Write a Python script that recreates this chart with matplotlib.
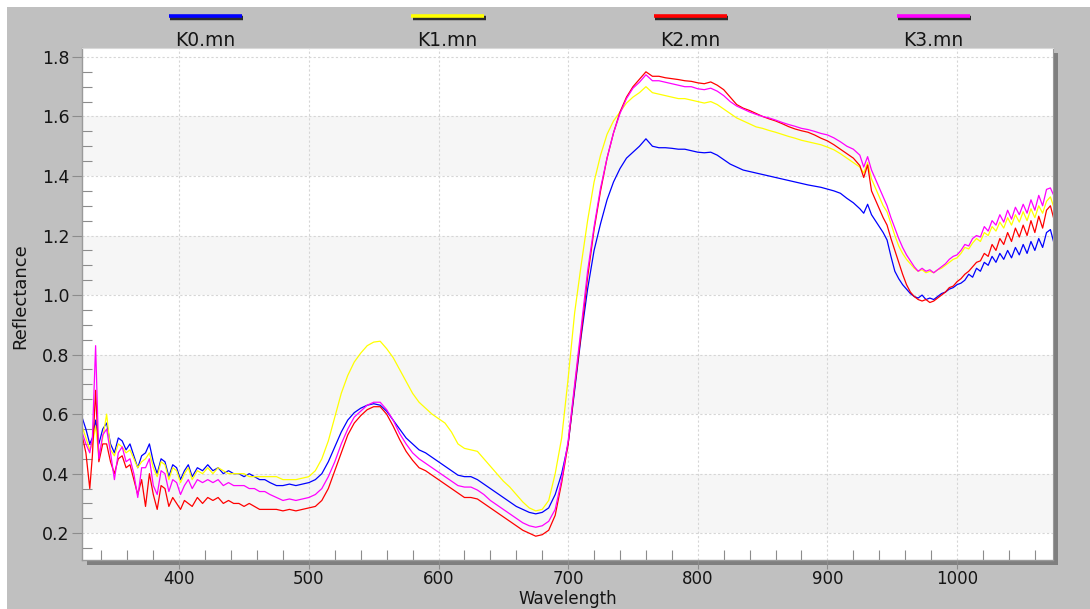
import matplotlib
matplotlib.use("Agg")
import matplotlib.pyplot as plt
from matplotlib.patches import Rectangle
from matplotlib.lines import Line2D

# ---------------- data ----------------
wavelength = [
    325, 328, 331, 333, 335.5, 338, 341, 344, 347, 350, 353, 356, 359, 362, 365,
    368, 371, 374, 377, 380, 383, 386, 389, 392, 395, 398, 401, 404, 407, 410,
    414, 418, 422, 426, 430, 434, 438, 442, 446, 450, 454, 458, 462, 466, 470,
    475, 480, 485, 490, 495, 500, 505, 510, 515, 520, 525, 530, 535, 540, 545,
    550, 555, 560, 565, 570, 575, 580, 585, 590, 595, 600, 605, 610, 615, 620,
    625, 630, 635, 640, 645, 650, 655, 660, 665, 670, 675, 680, 685, 690, 695,
    700, 705, 710, 715, 720, 725, 730, 735, 740, 745, 750, 755, 760, 765, 770,
    775, 780, 785, 790, 795, 800, 805, 810, 815, 820, 825, 830, 835, 840, 845,
    850, 855, 860, 865, 870, 875, 880, 885, 890, 895, 900, 905, 910, 915, 920,
    925, 928, 931, 934, 937, 940, 943, 946, 949, 952, 955, 958, 961, 964, 967,
    970, 973, 976, 979, 982, 985, 988, 991, 994, 997, 1000, 1003, 1006, 1009,
    1012, 1015, 1018, 1021, 1024, 1027, 1030, 1033, 1036, 1039, 1042, 1045,
    1048, 1051, 1054, 1057, 1060, 1063, 1066, 1069, 1072, 1075,
]

k0 = [
    0.59, 0.55, 0.50, 0.52, 0.58, 0.50, 0.55, 0.57, 0.50, 0.47, 0.52, 0.51, 0.48, 0.50, 0.46,
    0.42, 0.46, 0.47, 0.50, 0.44, 0.40, 0.45, 0.44, 0.39, 0.43, 0.42, 0.38, 0.41, 0.43, 0.39,
    0.42, 0.41, 0.43, 0.41, 0.42, 0.40, 0.41, 0.40, 0.40, 0.39, 0.40, 0.39, 0.38, 0.38, 0.37,
    0.36, 0.36, 0.365, 0.36, 0.365, 0.37, 0.38, 0.40, 0.44, 0.49, 0.54, 0.58, 0.605, 0.62, 0.63,
    0.635, 0.63, 0.61, 0.58, 0.55, 0.52, 0.50, 0.48, 0.47, 0.455, 0.44, 0.425, 0.41, 0.395, 0.39,
    0.39, 0.38, 0.365, 0.35, 0.335, 0.32, 0.305, 0.29, 0.28, 0.27, 0.265, 0.27, 0.285, 0.33, 0.40,
    0.50, 0.68, 0.86, 1.02, 1.15, 1.24, 1.32, 1.38, 1.425, 1.46, 1.48, 1.50, 1.525, 1.50, 1.495,
    1.495, 1.493, 1.49, 1.49, 1.485, 1.48, 1.478, 1.48, 1.47, 1.455, 1.44, 1.43, 1.42, 1.415, 1.41,
    1.405, 1.40, 1.395, 1.39, 1.385, 1.38, 1.375, 1.37, 1.366, 1.362, 1.356, 1.35, 1.342, 1.325, 1.31,
    1.29, 1.275, 1.305, 1.27, 1.25, 1.23, 1.21, 1.185, 1.13, 1.08, 1.055, 1.035, 1.02, 1.005, 0.995,
    0.99, 1.00, 0.985, 0.99, 0.985, 0.995, 1.005, 1.01, 1.02, 1.025, 1.035, 1.04, 1.05, 1.07,
    1.06, 1.09, 1.08, 1.11, 1.10, 1.13, 1.11, 1.14, 1.12, 1.15, 1.125, 1.16,
    1.135, 1.17, 1.14, 1.18, 1.15, 1.19, 1.16, 1.21, 1.22, 1.17,
]

k1 = [
    0.56, 0.52, 0.48, 0.50, 0.56, 0.46, 0.52, 0.60, 0.48, 0.46, 0.50, 0.49, 0.47, 0.48, 0.45,
    0.42, 0.44, 0.45, 0.47, 0.42, 0.39, 0.44, 0.43, 0.38, 0.42, 0.41, 0.37, 0.40, 0.42, 0.38,
    0.41, 0.40, 0.42, 0.40, 0.42, 0.41, 0.40, 0.40, 0.40, 0.40, 0.39, 0.39, 0.39, 0.39, 0.39,
    0.39, 0.38, 0.38, 0.38, 0.385, 0.39, 0.41, 0.45, 0.51, 0.59, 0.67, 0.73, 0.775, 0.805, 0.83,
    0.842, 0.845, 0.82, 0.79, 0.75, 0.71, 0.67, 0.64, 0.62, 0.60, 0.585, 0.57, 0.54, 0.50, 0.485,
    0.48, 0.475, 0.45, 0.425, 0.40, 0.375, 0.355, 0.33, 0.305, 0.285, 0.275, 0.28, 0.31, 0.40, 0.52,
    0.72, 0.94, 1.10, 1.25, 1.38, 1.47, 1.54, 1.585, 1.615, 1.645, 1.665, 1.68, 1.70, 1.68, 1.675,
    1.67, 1.665, 1.66, 1.66, 1.655, 1.65, 1.645, 1.65, 1.64, 1.625, 1.61, 1.595, 1.585, 1.575, 1.565,
    1.56, 1.553, 1.547, 1.54, 1.533, 1.527, 1.52, 1.515, 1.51, 1.505, 1.497, 1.488, 1.475, 1.46, 1.445,
    1.43, 1.41, 1.445, 1.39, 1.36, 1.33, 1.30, 1.28, 1.24, 1.20, 1.165, 1.14, 1.12, 1.105, 1.09,
    1.08, 1.085, 1.075, 1.08, 1.075, 1.085, 1.09, 1.10, 1.11, 1.12, 1.125, 1.14, 1.16, 1.155,
    1.175, 1.19, 1.18, 1.21, 1.20, 1.23, 1.215, 1.245, 1.225, 1.26, 1.235, 1.27,
    1.245, 1.28, 1.25, 1.29, 1.26, 1.30, 1.275, 1.315, 1.33, 1.29,
]

k2 = [
    0.53, 0.47, 0.35, 0.46, 0.68, 0.44, 0.50, 0.50, 0.44, 0.40, 0.45, 0.46, 0.42, 0.43, 0.38,
    0.33, 0.38, 0.29, 0.40, 0.33, 0.28, 0.36, 0.35, 0.29, 0.32, 0.30, 0.28, 0.31, 0.30, 0.29,
    0.32, 0.30, 0.32, 0.31, 0.32, 0.30, 0.31, 0.30, 0.30, 0.29, 0.30, 0.29, 0.28, 0.28, 0.28,
    0.28, 0.275, 0.28, 0.275, 0.28, 0.285, 0.29, 0.31, 0.35, 0.41, 0.47, 0.53, 0.57, 0.595, 0.615,
    0.625, 0.625, 0.60, 0.56, 0.515, 0.475, 0.445, 0.42, 0.41, 0.395, 0.38, 0.365, 0.35, 0.335, 0.32,
    0.32, 0.315, 0.30, 0.285, 0.27, 0.255, 0.24, 0.225, 0.21, 0.20, 0.19, 0.195, 0.21, 0.26, 0.37,
    0.50, 0.69, 0.87, 1.06, 1.22, 1.35, 1.46, 1.545, 1.615, 1.665, 1.70, 1.725, 1.75, 1.735, 1.735,
    1.73, 1.727, 1.724, 1.72, 1.718, 1.713, 1.71, 1.716, 1.705, 1.69, 1.665, 1.64, 1.628, 1.62, 1.61,
    1.60, 1.592, 1.585, 1.576, 1.566, 1.558, 1.552, 1.547, 1.538, 1.527, 1.518, 1.505, 1.49, 1.475, 1.46,
    1.435, 1.395, 1.437, 1.35, 1.32, 1.29, 1.26, 1.235, 1.19, 1.15, 1.11, 1.07, 1.035, 1.01, 0.995,
    0.985, 0.98, 0.985, 0.975, 0.98, 0.99, 1.00, 1.01, 1.025, 1.03, 1.045, 1.055, 1.07, 1.08,
    1.095, 1.11, 1.115, 1.14, 1.13, 1.17, 1.15, 1.19, 1.17, 1.21, 1.18, 1.225,
    1.195, 1.235, 1.20, 1.25, 1.21, 1.265, 1.225, 1.285, 1.30, 1.25,
]

k3 = [
    0.54, 0.50, 0.47, 0.52, 0.83, 0.45, 0.53, 0.55, 0.47, 0.38, 0.47, 0.49, 0.44, 0.45, 0.40,
    0.32, 0.42, 0.42, 0.45, 0.36, 0.33, 0.41, 0.40, 0.34, 0.38, 0.37, 0.33, 0.36, 0.38, 0.35,
    0.38, 0.37, 0.38, 0.37, 0.38, 0.36, 0.37, 0.36, 0.36, 0.36, 0.35, 0.35, 0.34, 0.34, 0.33,
    0.32, 0.31, 0.315, 0.31, 0.315, 0.32, 0.33, 0.35, 0.39, 0.44, 0.50, 0.55, 0.59, 0.61, 0.63,
    0.64, 0.64, 0.615, 0.58, 0.535, 0.50, 0.47, 0.45, 0.435, 0.42, 0.405, 0.39, 0.375, 0.36, 0.355,
    0.355, 0.345, 0.33, 0.31, 0.295, 0.28, 0.265, 0.25, 0.235, 0.225, 0.22, 0.225, 0.24, 0.28, 0.38,
    0.51, 0.70, 0.89, 1.08, 1.23, 1.36, 1.46, 1.545, 1.61, 1.66, 1.695, 1.715, 1.74, 1.72, 1.72,
    1.715, 1.71, 1.705, 1.70, 1.70, 1.693, 1.69, 1.695, 1.685, 1.67, 1.65, 1.635, 1.625, 1.615, 1.607,
    1.60, 1.595, 1.588, 1.58, 1.573, 1.567, 1.56, 1.556, 1.55, 1.543, 1.538, 1.528, 1.515, 1.50, 1.49,
    1.47, 1.43, 1.465, 1.42, 1.39, 1.36, 1.33, 1.30, 1.26, 1.225, 1.19, 1.16, 1.135, 1.115, 1.095,
    1.08, 1.09, 1.08, 1.085, 1.075, 1.085, 1.095, 1.105, 1.12, 1.13, 1.135, 1.15, 1.17, 1.165,
    1.19, 1.20, 1.195, 1.23, 1.215, 1.25, 1.235, 1.27, 1.245, 1.285, 1.255, 1.295,
    1.27, 1.305, 1.275, 1.32, 1.285, 1.335, 1.30, 1.355, 1.36, 1.33,
]

series_names = ["K0.mn", "K1.mn", "K2.mn", "K3.mn"]
series_values = [k0, k1, k2, k3]
series_colors = ["#0000ff", "#ffff00", "#ff0000", "#ff00ff"]

x_major = [400, 500, 600, 700, 800, 900, 1000]
y_major = [0.2, 0.4, 0.6, 0.8, 1.0, 1.2, 1.4, 1.6, 1.8]
y_bands = [(0.2, 0.4), (0.6, 0.8), (1.0, 1.2), (1.4, 1.6)]

# ---------------- figure ----------------
W, H = 1090, 609
fig = plt.figure(figsize=(W / 100, H / 100), dpi=100)
fig.patch.set_facecolor("white")

# grey panel (white margin top / left)
fig.add_artist(Rectangle((7 / W, 0), 1 - 7 / W, 1 - 7 / H, transform=fig.transFigure,
                         facecolor="#c0c0c0", edgecolor="none", zorder=-3))

ax_l, ax_b, ax_w, ax_h = 82 / W, 1 - 560 / H, 971 / W, 512 / H
# drop shadow
fig.add_artist(Rectangle((ax_l + 5 / W, ax_b - 5 / H), ax_w, ax_h, transform=fig.transFigure,
                         facecolor="#7f7f7f", edgecolor="none", zorder=-2))

ax = fig.add_axes([ax_l, ax_b, ax_w, ax_h])
ax.set_facecolor("white")
for lo, hi in y_bands:
    ax.axhspan(lo, hi, color="#f6f6f6", lw=0, zorder=0.1)

for name, vals, col in zip(series_names, series_values, series_colors):
    ax.plot(wavelength, vals, color=col, lw=0.9, zorder=2, label=name)

ax.set_xlim(325, 1074)
ax.set_ylim(0.11, 1.83)

ax.set_xticks(x_major)
ax.set_xticks([v for v in range(340, 1061, 20) if v % 100 != 0], minor=True)
ax.set_yticks(y_major)
ax.set_yticklabels([f"{v:.1f}" for v in y_major])
ax.set_yticks([round(0.15 + 0.05 * i, 2) for i in range(33) if round((0.15 + 0.05 * i) * 100) % 20 != 0],
              minor=True)

ax.tick_params(which="major", direction="out", length=7.5, width=0.8, color="#8c8c8c",
               pad=1.5, labelsize=12.5, labelcolor="#151515")
ax.tick_params(axis="x", which="major", length=6.5, pad=0.5, labelsize=12)
ax.tick_params(which="minor", direction="in", length=7.5, width=0.8, color="#8c8c8c")
ax.tick_params(top=False, right=False, which="both")

ax.grid(True, which="major", color="#d6d6d6", linestyle=(0, (2, 2)), lw=0.8, zorder=0.5)
ax.set_axisbelow(True)

for s in ["left", "bottom"]:
    ax.spines[s].set_color("#9a9a9a")
    ax.spines[s].set_linewidth(1.0)
ax.spines["top"].set_color("#d8d8d8")
ax.spines["top"].set_linewidth(0.8)
ax.spines["right"].set_color("#9a9a9a")
ax.spines["right"].set_linewidth(0.8)

ax.set_ylabel("Reflectance", fontsize=13, color="#151515")
ax.yaxis.set_label_coords((29 - 82) / 971, (560 - 296.5) / 512)
ax.set_xlabel("Wavelength", fontsize=12, color="#151515", va="top")
ax.xaxis.set_label_coords(0.5, (560 - 589.5) / 512)

# legend across the top: coloured bar above each name
for i, (name, col) in enumerate(zip(series_names, series_colors)):
    cx = (205 + 242.7 * i) / W
    half = 36.5 / W
    fig.add_artist(Line2D([cx - half + 1.5 / W, cx + half + 1.5 / W], [1 - 18 / H] * 2,
                          transform=fig.transFigure, color="#2a2a2a", lw=3.2,
                          solid_capstyle="butt", zorder=1))
    fig.add_artist(Line2D([cx - half, cx + half], [1 - 16 / H] * 2,
                          transform=fig.transFigure, color=col, lw=2.6,
                          solid_capstyle="butt", zorder=2))
    fig.text(cx, 1 - 40 / H, name, ha="center", va="center", fontsize=13.5, color="#151515")

fig.savefig("out.png", dpi=100, facecolor=fig.get_facecolor())
